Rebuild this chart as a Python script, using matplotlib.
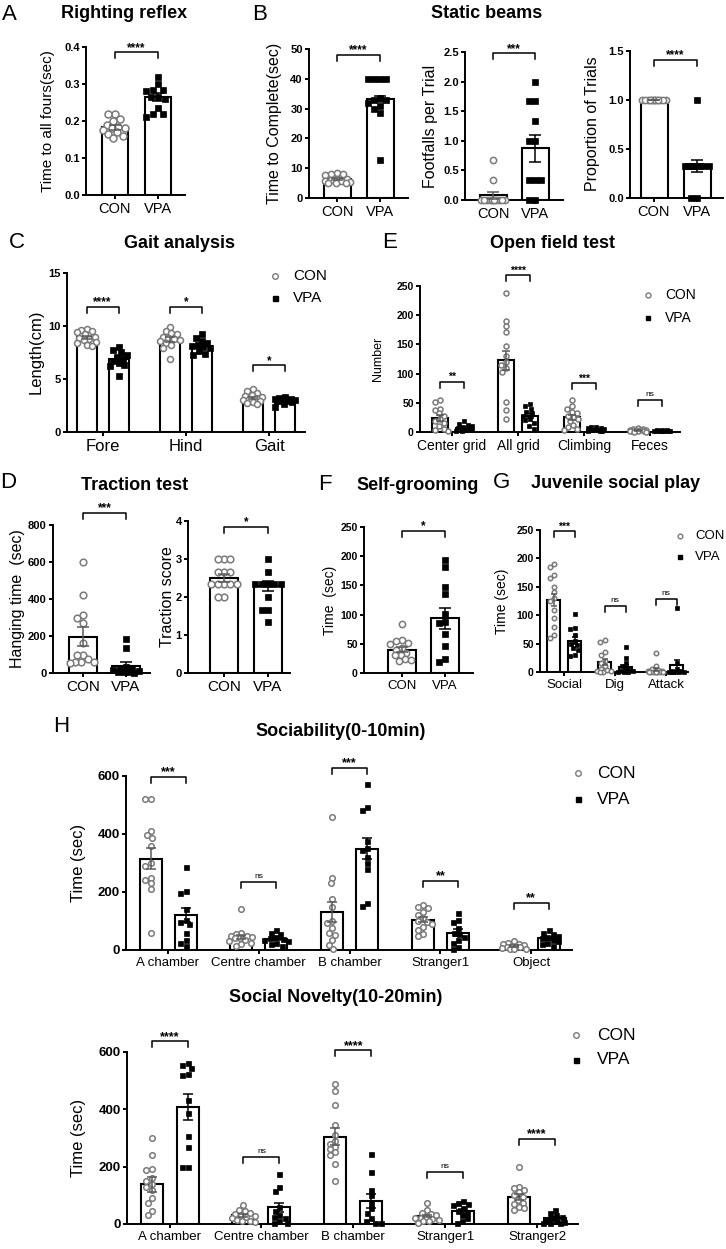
import numpy as np
import matplotlib
matplotlib.use("Agg")
import matplotlib.pyplot as plt
from matplotlib.lines import Line2D

plt.rcParams['font.family'] = ['Liberation Sans', 'DejaVu Sans']

W, H = 726, 1249

group_names = ['CON', 'VPA']

# A. Righting reflex
rr_con = [0.22, 0.22, 0.205, 0.20, 0.19, 0.185, 0.18, 0.18, 0.175, 0.17, 0.165, 0.16, 0.155]
rr_vpa = [0.32, 0.30, 0.285, 0.285, 0.28, 0.265, 0.265, 0.26, 0.235, 0.22, 0.22, 0.21]
rr_mean = [0.183, 0.265]
rr_sem = [0.006, 0.011]

# B. Static beams
sb_time_con = [8.5, 8.2, 8.0, 7.8, 6.5, 6.3, 6.0, 5.8, 5.6, 5.4, 5.2, 5.0, 5.0]
sb_time_vpa = [40, 40, 40, 40, 33.5, 33, 33, 32, 31, 30, 28.5, 12.7]
sb_time_mean = [6.4, 33.2]
sb_time_sem = [0.4, 1.1]

sb_foot_con = [0.67, 0.33, 0, 0, 0, 0, 0, 0, 0, 0, 0, 0, 0]
sb_foot_vpa = [2.0, 1.67, 1.67, 1.33, 1.0, 1.0, 0.33, 0.33, 0.33, 0, 0]
sb_foot_mean = [0.077, 0.87]
sb_foot_sem = [0.056, 0.22]

sb_prop_con = [1.0, 1.0, 1.0, 1.0, 1.0, 1.0, 1.0, 1.0, 1.0, 1.0, 1.0, 1.0, 1.0]
sb_prop_vpa = [1.0, 0.33, 0.33, 0.33, 0.33, 0.33, 0.33, 0.33, 0.33, 0, 0]
sb_prop_mean = [1.0, 0.33]
sb_prop_sem = [0.0, 0.06]

# C. Gait analysis
gait_groups = ['Fore', 'Hind', 'Gait']
gait_con = [[9.7, 9.6, 9.5, 9.4, 9.2, 9.0, 8.9, 8.8, 8.7, 8.5, 8.4, 8.2, 8.1],
            [9.9, 9.5, 9.3, 9.2, 9.0, 8.9, 8.8, 8.7, 8.6, 8.4, 8.2, 7.9, 6.9],
            [4.1, 3.9, 3.7, 3.5, 3.4, 3.3, 3.2, 3.1, 3.0, 2.9, 2.8, 2.7, 2.6]]
gait_vpa = [[8.0, 7.7, 7.5, 7.3, 7.1, 6.9, 6.7, 6.5, 6.3, 6.2, 5.3],
            [9.2, 8.9, 8.6, 8.4, 8.2, 8.1, 8.0, 7.9, 7.6, 7.4, 7.3],
            [3.3, 3.2, 3.1, 3.1, 3.0, 3.0, 2.9, 2.9, 2.8, 2.6, 2.4]]
gait_con_mean = [8.95, 8.7, 3.2]
gait_vpa_mean = [6.9, 8.15, 3.0]
gait_con_sem = [0.15, 0.22, 0.12]
gait_vpa_sem = [0.24, 0.17, 0.08]
gait_sig = ['****', '*', '*']

# E. Open field test
of_groups = ['Center grid', 'All grid', 'Climbing', 'Feces']
of_con = [[55, 52, 40, 38, 32, 28, 22, 18, 15, 10, 5, 3, 2],
          [238, 190, 181, 171, 147, 130, 120, 115, 110, 103, 52, 38, 22],
          [55, 45, 40, 35, 32, 28, 25, 22, 18, 12, 8, 5, 3],
          [6, 5, 5, 4, 4, 3, 3, 2, 2, 1, 1, 0, 0]]
of_vpa = [[18, 14, 12, 10, 8, 6, 5, 4, 3, 2, 1],
          [48, 45, 40, 35, 32, 28, 22, 20, 15, 10, 5],
          [9, 8, 7, 6, 5, 4, 3, 3, 2, 1, 1],
          [3, 3, 3, 2, 2, 2, 2, 1, 1, 1, 1]]
of_con_mean = [24, 123, 25, 3]
of_vpa_mean = [7, 28, 4.5, 2]
of_con_sem = [5, 16, 4.2, 0.5]
of_vpa_sem = [1.7, 4.5, 0.8, 0.3]
of_sig = ['**', '****', '***', 'ns']

# D. Traction test
ht_con = [600, 422, 312, 300, 268, 160, 100, 95, 75, 62, 60, 58, 55]
ht_vpa = [185, 135, 30, 25, 20, 15, 10, 5, 5, 3, 2]
ht_mean = [197, 38]
ht_sem = [50, 20]

ts_con = [3.0, 3.0, 3.0, 2.67, 2.67, 2.67, 2.33, 2.33, 2.33, 2.33, 2.33, 2.0, 2.0]
ts_vpa = [3.0, 2.67, 2.33, 2.33, 2.33, 2.33, 2.33, 2.0, 1.67, 1.67, 1.33]
ts_mean = [2.5, 2.3]
ts_sem = [0.1, 0.13]

# F. Self-grooming
sg_con = [84, 56, 54, 52, 50, 42, 40, 34, 31, 30, 24, 22, 20]
sg_vpa = [193, 181, 147, 136, 101, 88, 85, 67, 47, 24, 18]
sg_mean = [40, 94]
sg_sem = [4.5, 18]

# G. Juvenile social play
jsp_groups = ['Social', 'Dig', 'Attack']
jsp_con = [[190, 185, 170, 165, 150, 140, 130, 125, 110, 95, 80, 65, 60],
           [56, 52, 35, 30, 20, 15, 10, 5, 3, 2, 1, 0, 0],
           [33, 10, 5, 3, 2, 1, 0, 0, 0, 0, 0, 0, 0]]
jsp_vpa = [[102, 77, 75, 65, 55, 50, 48, 42, 38, 30, 28],
           [44, 25, 15, 10, 5, 3, 2, 1, 0, 0, 0],
           [112, 15, 5, 2, 1, 0, 0, 0, 0, 0, 0]]
jsp_con_mean = [127, 18, 4]
jsp_vpa_mean = [55, 9, 12]
jsp_con_sem = [11, 5, 2.5]
jsp_vpa_sem = [6, 4, 10]
jsp_sig = ['***', 'ns', 'ns']

# H. Three-chamber test
soc_groups = ['A chamber', 'Centre chamber', 'B chamber', 'Stranger1', 'Object']
soc_con = [[520, 520, 410, 395, 385, 360, 300, 288, 250, 240, 230, 210, 60],
           [140, 60, 55, 50, 48, 45, 42, 40, 35, 30, 25, 20, 15],
           [460, 248, 230, 176, 150, 100, 93, 76, 60, 52, 34, 17, 3],
           [155, 150, 145, 130, 120, 110, 100, 95, 90, 80, 70, 55, 50],
           [30, 25, 22, 20, 18, 15, 12, 10, 10, 8, 5, 5, 3]]
soc_vpa = [[285, 205, 195, 140, 105, 95, 90, 60, 35, 25, 15],
           [70, 60, 55, 45, 40, 38, 35, 30, 25, 20, 15],
           [572, 493, 483, 376, 352, 345, 322, 300, 280, 162, 152],
           [128, 105, 95, 75, 60, 55, 45, 35, 25, 10, 5],
           [70, 60, 55, 50, 45, 40, 35, 30, 25, 20, 15]]
soc_con_mean = [315, 45, 130, 105, 15]
soc_vpa_mean = [122, 38, 350, 60, 40]
soc_con_sem = [37, 8, 35, 10, 3]
soc_vpa_sem = [24, 5, 36, 13, 5]
soc_sig = ['***', 'ns', '***', '**', '**']

nov_groups = ['A chamber', 'Centre chamber', 'B chamber', 'Stranger1', 'Stranger2']
nov_con = [[300, 240, 192, 188, 160, 150, 140, 130, 120, 90, 75, 45, 32],
           [65, 50, 45, 40, 35, 30, 28, 25, 20, 15, 12, 10, 8],
           [490, 465, 415, 345, 310, 290, 280, 270, 260, 250, 240, 210, 150],
           [72, 50, 40, 35, 30, 25, 22, 20, 18, 15, 12, 10, 5],
           [200, 130, 125, 120, 110, 100, 95, 85, 75, 70, 60, 55, 50]]
nov_vpa = [[560, 555, 545, 522, 520, 432, 386, 307, 268, 200, 198],
           [175, 130, 115, 60, 45, 30, 25, 20, 10, 5, 3],
           [245, 182, 120, 100, 75, 55, 40, 20, 10, 5, 3],
           [80, 75, 70, 65, 55, 45, 40, 30, 20, 10, 5],
           [48, 40, 30, 25, 20, 15, 10, 8, 5, 3, 2]]
nov_con_mean = [138, 30, 305, 28, 95]
nov_vpa_mean = [408, 58, 80, 45, 20]
nov_con_sem = [25, 5, 30, 5, 11]
nov_vpa_sem = [45, 17, 25, 8, 5]
nov_sig = ['****', 'ns', '****', 'ns', '****']

CON_EDGE = '#7a7a7a'
CON_ERR = '#5a5a5a'

fig = plt.figure(figsize=(W / 100, H / 100), dpi=100)


def fx(x):
    return x / W


def fy(y):
    return 1 - y / H


def make_axes(left, right, top, bottom, ymax, yticks, ytl, c0, unit, yfs=8):
    ax = fig.add_axes([left / W, 1 - bottom / H, (right - left) / W, (bottom - top) / H])
    ax.set_xlim((left - c0) / unit, (right - c0) / unit)
    ax.set_ylim(0, ymax)
    for s in ['top', 'right']:
        ax.spines[s].set_visible(False)
    for s in ['left', 'bottom']:
        ax.spines[s].set_linewidth(1.4)
    ax.set_yticks(yticks)
    ax.set_yticklabels(ytl, fontweight='bold', fontsize=yfs)
    ax.tick_params(length=3, width=1.4, pad=1.5)
    ax.patch.set_alpha(0)
    return ax


def swarm(ax, x, vals, d, maxw):
    # spread points sideways so they don't sit on top of each other
    vals = np.asarray(vals, dtype=float)
    pts = ax.transData.transform(np.column_stack([np.full(len(vals), x), vals]))
    py = pts[:, 1]
    step = d / 4.0
    cands = [0.0]
    k = 1
    while k * step <= maxw:
        cands += [-k * step, k * step]
        k += 1
    order = np.argsort(-vals, kind='stable')
    placed = []
    offs = np.zeros(len(vals))
    for i in order:
        best_c, best_d = 0.0, -1.0
        for c in cands:
            if placed:
                md = min(np.hypot(c - ox, py[i] - oy) for ox, oy in placed)
            else:
                md = np.inf
            if md >= d:
                best_c = c
                break
            if md > best_d:
                best_c, best_d = c, md
        offs[i] = best_c
        placed.append((best_c, py[i]))
    unit = ax.transData.transform([[1, 0]])[0, 0] - ax.transData.transform([[0, 0]])[0, 0]
    return x + offs / unit


def draw_group(ax, x, vals, mean, sem, kind, bw, ms, maxw, elw=1.1):
    unit = ax.transData.transform([[1, 0]])[0, 0] - ax.transData.transform([[0, 0]])[0, 0]
    ax.bar(x, mean, width=bw, color='white', edgecolor='black', linewidth=1.5, zorder=2)
    dpx = ms / 0.72
    xs = swarm(ax, x, vals, dpx * 0.95, maxw)
    if kind == 'con':
        ax.plot(xs, vals, 'o', ms=ms, mfc='white', mec=CON_EDGE, mew=1.1,
                ls='none', zorder=3, clip_on=False)
        ec = CON_ERR
    else:
        ax.plot(xs, vals, 's', ms=ms * 0.9, mfc='black', mec='black', mew=0.5,
                ls='none', zorder=3, clip_on=False)
        ec = 'black'
    cap = bw * unit * 0.45 / 2 * 0.72
    ax.errorbar(x, mean, yerr=sem, fmt='none', ecolor=ec, elinewidth=elw,
                capsize=cap, capthick=elw, zorder=4)


def sig(ax, x1, x2, y, label, fs=8.5, leg_px=6):
    t = ax.transData
    ppy = t.transform([[0, 1]])[0, 1] - t.transform([[0, 0]])[0, 1]
    leg = leg_px / ppy
    ax.plot([x1, x1, x2, x2], [y - leg, y, y, y - leg], color='black', lw=1.1,
            clip_on=False, zorder=5)
    if label == 'ns':
        ax.text((x1 + x2) / 2, y + 4 / ppy, label, ha='center', va='baseline',
                fontsize=6, clip_on=False)
    else:
        ax.text((x1 + x2) / 2, y + 1.5 / ppy, label, ha='center', va='baseline',
                fontsize=fs, fontweight='bold', clip_on=False)


def pair_panel(box, ymax, yticks, ytl, c0, unit, bwpx, con, vpa, mean, sem, ms, xfs,
               ylab, ylab_xy, ylab_fs, sig_y, sig_label, yfs=8):
    ax = make_axes(*box, ymax, yticks, ytl, c0, unit, yfs=yfs)
    bw = bwpx / unit
    draw_group(ax, 0, con, mean[0], sem[0], 'con', bw, ms, bwpx / 2)
    draw_group(ax, 1, vpa, mean[1], sem[1], 'vpa', bw, ms, bwpx / 2)
    ax.set_xticks([0, 1])
    ax.set_xticklabels(group_names, fontsize=xfs)
    ax.tick_params(axis='x', pad=2)
    fig.text(fx(ylab_xy[0]), fy(ylab_xy[1]), ylab, rotation=90, ha='center', va='center', fontsize=ylab_fs)
    sig(ax, 0, 1, sig_y, sig_label)
    return ax


def grouped_panel(box, ymax, yticks, ytl, c0, unit, offpx, bwpx, names, con, vpa, cm, vm, cs, vs,
                  ms, xfs, ylab, ylab_xy, ylab_fs, sig_ys, sig_labels, yfs=8, sfs=8.5):
    ax = make_axes(*box, ymax, yticks, ytl, c0, unit, yfs=yfs)
    off = offpx / unit
    bw = bwpx / unit
    for i in range(len(names)):
        draw_group(ax, i - off, con[i], cm[i], cs[i], 'con', bw, ms, bwpx / 2 + 1)
        draw_group(ax, i + off, vpa[i], vm[i], vs[i], 'vpa', bw, ms, bwpx / 2 + 1)
        sig(ax, i - off, i + off, sig_ys[i], sig_labels[i], fs=sfs)
    ax.set_xticks(range(len(names)))
    ax.set_xticklabels(names, fontsize=xfs)
    ax.tick_params(axis='x', pad=2)
    fig.text(fx(ylab_xy[0]), fy(ylab_xy[1]), ylab, rotation=90, ha='center', va='center', fontsize=ylab_fs)
    return ax


def legend(xm, xt, y1, y2, fs, ms):
    fig.add_artist(Line2D([fx(xm)], [fy(y1)], marker='o', ms=ms, mfc='white', mec=CON_EDGE, mew=1.0, ls='none'))
    fig.add_artist(Line2D([fx(xm)], [fy(y2)], marker='s', ms=ms * 0.9, mfc='black', mec='black', ls='none'))
    fig.text(fx(xt), fy(y1), 'CON', va='center', ha='left', fontsize=fs)
    fig.text(fx(xt), fy(y2), 'VPA', va='center', ha='left', fontsize=fs)


def heading(letter, lx, ly, title, tx, ty, tfs=13):
    if letter:
        fig.text(fx(lx), fy(ly), letter, ha='left', va='center', fontsize=16)
    fig.text(fx(tx), fy(ty), title, ha='center', va='center', fontsize=tfs, fontweight='bold')


# ---------- A ----------
heading('A', 2, 14, 'Righting reflex', 124, 13)
pair_panel((86, 185, 47, 195), 0.4, [0, 0.1, 0.2, 0.3, 0.4], ['0.0', '0.1', '0.2', '0.3', '0.4'],
           115, 43, 26, rr_con, rr_vpa, rr_mean, rr_sem, 5.0, 10.5,
           'Time to all fours(sec)', (48, 121), 11, 0.386, '****')

# ---------- B ----------
heading('B', 252, 14, 'Static beams', 487, 13)
pair_panel((309, 408, 49, 198), 50, [0, 10, 20, 30, 40, 50], ['0', '10', '20', '30', '40', '50'],
           337, 43, 27, sb_time_con, sb_time_vpa, sb_time_mean, sb_time_sem, 4.5, 10.5,
           'Time to Complete(sec)', (275, 123), 11.5, 48, '****')
pair_panel((465, 563, 52, 200), 2.5, [0, 0.5, 1.0, 1.5, 2.0, 2.5], ['0.0', '0.5', '1.0', '1.5', '2.0', '2.5'],
           493, 42, 27, sb_foot_con, sb_foot_vpa, sb_foot_mean, sb_foot_sem, 4.5, 10.5,
           'Footfalls per Trial', (431, 126), 11.5, 2.48, '***')
pair_panel((630, 723, 51, 198), 1.5, [0, 0.5, 1.0, 1.5], ['0.0', '0.5', '1.0', '1.5'],
           654, 43, 27, sb_prop_con, sb_prop_vpa, sb_prop_mean, sb_prop_sem, 4.5, 10.5,
           'Proportion of Trials', (593, 124), 11.5, 1.41, '****')

# ---------- C ----------
heading('C', 9, 242, 'Gait analysis', 180, 244)
grouped_panel((67, 305, 273, 432), 15, [0, 5, 10, 15], ['0', '5', '10', '15'],
              102.5, 83.3, 16, 20, gait_groups, gait_con, gait_vpa,
              gait_con_mean, gait_vpa_mean, gait_con_sem, gait_vpa_sem,
              4.3, 12, 'Length(cm)', (36, 352), 12, [11.8, 11.8, 6.3], gait_sig)
legend(275, 293, 276, 298, 11, 4.0)

# ---------- E ----------
heading('E', 382, 242, 'Open field test', 553, 244)
grouped_panel((420, 680, 286, 432), 250, [0, 50, 100, 150, 200, 250], ['0', '50', '100', '150', '200', '250'],
              452, 66, 12, 16, of_groups, of_con, of_vpa,
              of_con_mean, of_vpa_mean, of_con_sem, of_vpa_sem,
              3.6, 10, 'Number', (378, 359), 9, [86, 269, 84, 55], of_sig, yfs=7.5, sfs=7.5)
legend(648, 665, 295, 318, 10, 3.6)

# ---------- D ----------
heading('D', 0, 483, 'Traction test', 135, 485)
pair_panel((53, 150, 525, 673), 800, [0, 200, 400, 600, 800], ['0', '200', '400', '600', '800'],
           83, 43, 28, ht_con, ht_vpa, ht_mean, ht_sem, 4.8, 11,
           'Hanging time  (sec)', (18, 599), 11.5, 865, '***')
pair_panel((188, 290, 521, 673), 4, [0, 1, 2, 3, 4], ['0', '1', '2', '3', '4'],
           224, 44, 28, ts_con, ts_vpa, ts_mean, ts_sem, 4.8, 11,
           'Traction score', (167, 597), 11.5, 3.84, '*')

# ---------- F ----------
heading('F', 318, 485, 'Self-grooming', 418, 485)
pair_panel((364, 473, 527, 673), 250, [0, 50, 100, 150, 200, 250], ['0', '50', '100', '150', '200', '250'],
           402, 43, 28, sg_con, sg_vpa, sg_mean, sg_sem, 4.5, 9.5,
           'Time  (sec)', (330, 600), 10, 243, '*', yfs=7.5)

# ---------- G ----------
heading('G', 493, 483, 'Juvenile social play', 616, 483)
grouped_panel((540, 688, 530, 672), 250, [0, 50, 100, 150, 200, 250], ['0', '50', '100', '150', '200', '250'],
              564, 51, 10.5, 13, jsp_groups, jsp_con, jsp_vpa,
              jsp_con_mean, jsp_vpa_mean, jsp_con_sem, jsp_vpa_sem,
              3.2, 9.5, 'Time (sec)', (502, 601), 10, [248, 116, 128], jsp_sig, yfs=7.5, sfs=7.5)
legend(680, 695, 536, 557, 9.5, 3.4)

# ---------- H ----------
heading('H', 53, 727, 'Sociability(0-10min)', 341, 732)
grouped_panel((126, 572, 776, 950), 600, [0, 200, 400, 600], ['0', '200', '400', '600'],
              168, 90.8, 17.5, 22, soc_groups, soc_con, soc_vpa,
              soc_con_mean, soc_vpa_mean, soc_con_sem, soc_vpa_sem,
              4.0, 9.5, 'Time (sec)', (79, 863), 12, [597, 234, 628, 238, 162], soc_sig, yfs=9.5, sfs=9)
legend(578, 597, 773, 799, 12.5, 4.0)

heading(None, 0, 0, 'Social Novelty(10-20min)', 336, 998)
grouped_panel((127, 578, 1052, 1224), 600, [0, 200, 400, 600], ['0', '200', '400', '600'],
              169.5, 91.9, 18, 22, nov_groups, nov_con, nov_vpa,
              nov_con_mean, nov_vpa_mean, nov_con_sem, nov_vpa_sem,
              4.0, 9.5, 'Time (sec)', (79, 1138), 12, [637, 233, 606, 181, 296], nov_sig, yfs=9.5, sfs=9)
legend(576, 597, 1035, 1060, 12.5, 4.0)

fig.savefig('out.png', dpi=100)
